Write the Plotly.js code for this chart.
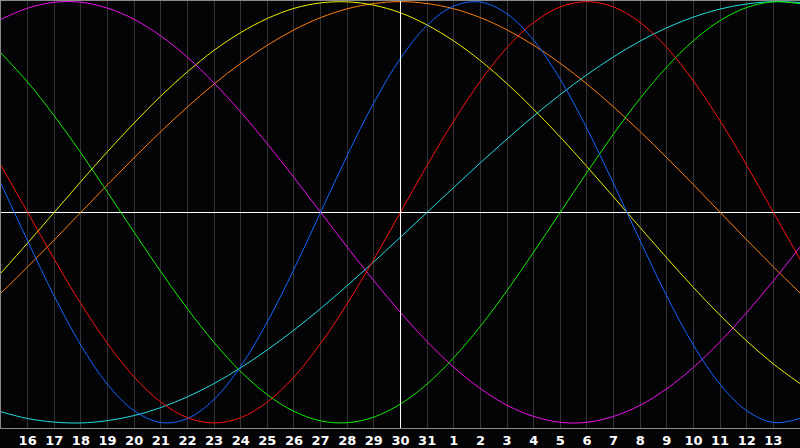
<!DOCTYPE html>
<html>
<head>
<meta charset="utf-8">
<script src="https://cdn.plot.ly/plotly-3.0.1.min.js"></script>
<style>
html,body{margin:0;padding:0;background:#040407;}
#chart{width:800px;height:448px;}
</style>
</head>
<body>
<div id="chart"></div>
<script>
// day index 0..30 (0 = 15th of first month, 30 = 14th of next month)
var days = [0,1,2,3,4,5,6,7,8,9,10,11,12,13,14,15,16,17,18,19,20,21,22,23,24,25,26,27,28,29,30];
var tickDays = [1,2,3,4,5,6,7,8,9,10,11,12,13,14,15,16,17,18,19,20,21,22,23,24,25,26,27,28,29];
var tickLabels = ["16","17","18","19","20","21","22","23","24","25","26","27","28","29","30","31","1","2","3","4","5","6","7","8","9","10","11","12","13"];
var todayIndex = 15;

var red = [0.223,0,-0.223,-0.434,-0.623,-0.782,-0.901,-0.975,-1,-0.975,-0.901,-0.782,-0.623,-0.434,-0.223,0,0.223,0.434,0.623,0.782,0.901,0.975,1,0.975,0.901,0.782,0.623,0.434,0.223,0,-0.223];
var blue = [0.136,-0.136,-0.398,-0.631,-0.817,-0.942,-0.998,-0.979,-0.888,-0.731,-0.520,-0.270,0,0.270,0.520,0.731,0.888,0.979,0.998,0.942,0.817,0.631,0.398,0.136,-0.136,-0.398,-0.631,-0.817,-0.942,-0.998,-0.979];
var green = [0.756,0.618,0.458,0.282,0.095,-0.095,-0.282,-0.458,-0.618,-0.756,-0.866,-0.945,-0.990,-0.999,-0.972,-0.910,-0.815,-0.690,-0.541,-0.372,-0.189,0,0.189,0.372,0.541,0.690,0.815,0.910,0.972,0.999,0.990];
var cyan = [-0.947,-0.979,-0.996,-1.000,-0.989,-0.965,-0.927,-0.876,-0.813,-0.738,-0.653,-0.559,-0.457,-0.348,-0.235,-0.118,0,0.118,0.235,0.348,0.457,0.559,0.653,0.738,0.813,0.876,0.927,0.965,0.989,1.000,0.996];
var magenta = [0.916,0.969,0.997,0.997,0.969,0.916,0.837,0.736,0.614,0.476,0.325,0.165,0,-0.165,-0.325,-0.476,-0.614,-0.736,-0.837,-0.916,-0.969,-0.997,-0.997,-0.969,-0.916,-0.837,-0.736,-0.614,-0.476,-0.325,-0.165];
var yellow = [-0.288,-0.146,0,0.146,0.288,0.424,0.552,0.667,0.769,0.853,0.920,0.968,0.994,0.999,0.983,0.947,0.889,0.813,0.720,0.611,0.489,0.357,0.217,0.073,-0.073,-0.217,-0.357,-0.489,-0.611,-0.720,-0.813];
var orange = [-0.383,-0.259,-0.131,0,0.131,0.259,0.383,0.5,0.609,0.707,0.793,0.866,0.924,0.966,0.991,1,0.991,0.966,0.924,0.866,0.793,0.707,0.609,0.5,0.383,0.259,0.131,0,-0.131,-0.259,-0.383];

var seriesList = [
  {y: orange, color: '#ff7f10'},
  {y: yellow, color: '#eeee00'},
  {y: magenta, color: '#ee11ee'},
  {y: cyan, color: '#22dddd'},
  {y: green, color: '#11ee00'},
  {y: blue, color: '#1066ff'},
  {y: red, color: '#ff1010'}
];

var traces = seriesList.map(function(s){
  return {
    x: days, y: s.y, type: 'scatter', mode: 'lines',
    line: {color: s.color, width: 1, shape: 'spline', smoothing: 1},
    hoverinfo: 'skip', showlegend: false
  };
});

var layout = {
  width: 800, height: 448,
  margin: {l: 1, r: 0, t: 1, b: 20, pad: 0},
  paper_bgcolor: '#040407',
  plot_bgcolor: '#040407',
  showlegend: false,
  xaxis: {
    range: [0, 30], fixedrange: true,
    tickmode: 'array', tickvals: tickDays, ticktext: tickLabels,
    showgrid: true, gridcolor: '#333333', gridwidth: 1,
    zeroline: false,
    showline: true, linecolor: '#8a8a8a', linewidth: 1, mirror: true,
    ticks: '', ticklen: 0,
    tickfont: {family: 'DejaVu Sans', size: 13, color: '#ffffff', weight: 'bold'}
  },
  yaxis: {
    range: [-1.024, 1.003], fixedrange: true,
    showgrid: false, showticklabels: false, ticks: '',
    zeroline: true, zerolinecolor: '#ffffff', zerolinewidth: 1,
    showline: true, linecolor: '#8a8a8a', linewidth: 1, mirror: false
  },
  shapes: [
    {type: 'line', xref: 'x', yref: 'paper', x0: todayIndex, x1: todayIndex, y0: 0, y1: 1,
     line: {color: '#ffffff', width: 1}, layer: 'above'}
  ]
};

Plotly.newPlot('chart', traces, layout, {staticPlot: true, displayModeBar: false});
</script>
</body>
</html>
